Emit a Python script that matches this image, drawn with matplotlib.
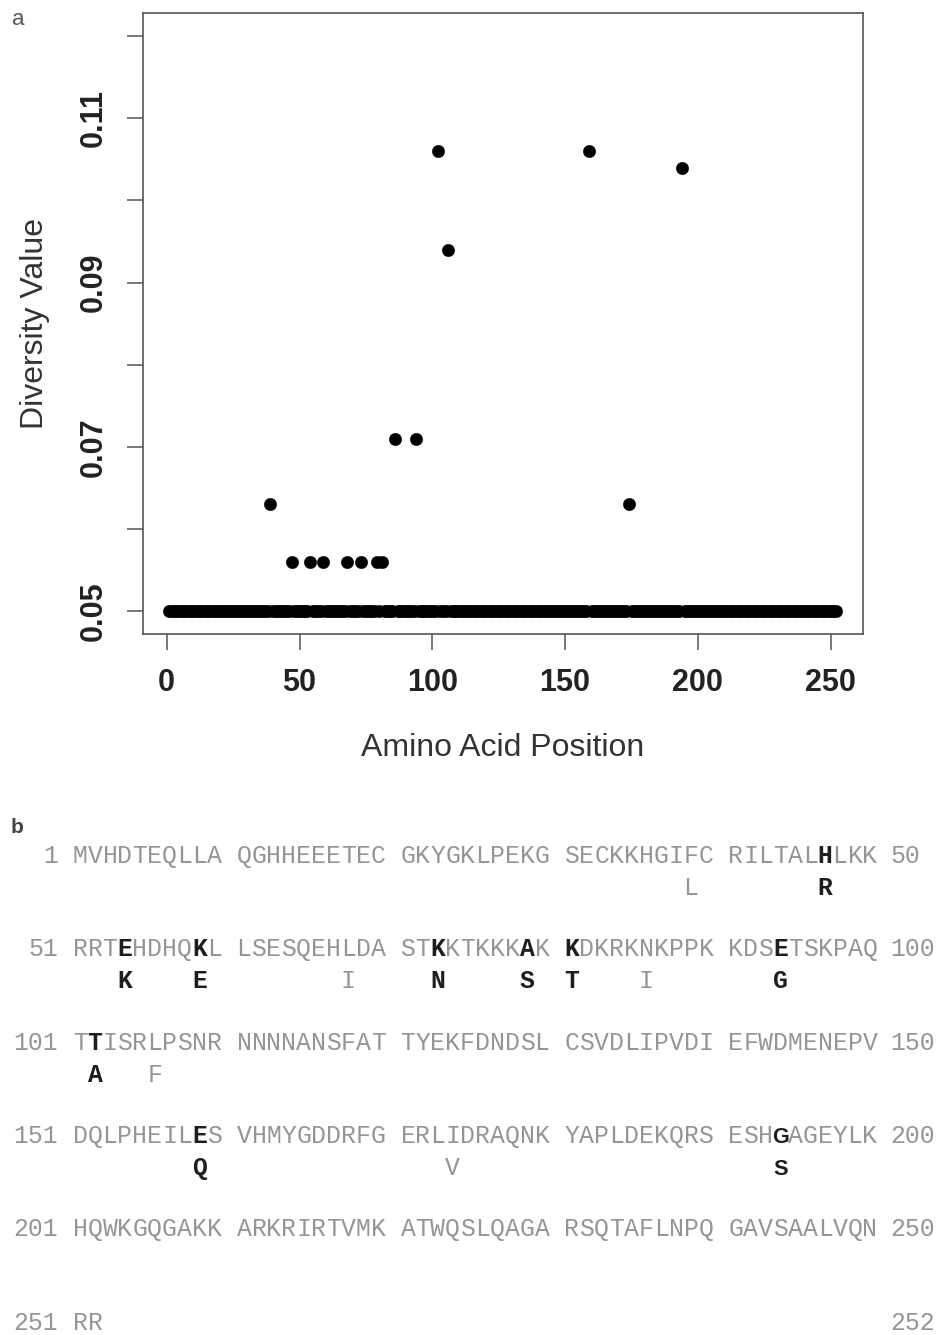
import numpy as np
import matplotlib
matplotlib.use("Agg")
import matplotlib.pyplot as plt

# ---------------- data ----------------
n_positions = 252
baseline_diversity = 0.05
site_positions = [39, 47, 54, 59, 68, 73, 79, 81, 86, 94, 102, 106, 159, 174, 194]
site_diversity = [0.063, 0.056, 0.056, 0.056, 0.056, 0.056, 0.056, 0.056,
                  0.071, 0.071, 0.106, 0.094, 0.106, 0.063, 0.104]
site_variants = ["L", "R", "K", "E", "I", "N", "S", "T", "I", "G", "A", "F", "Q", "V", "S"]
bold_sites = [47, 54, 59, 73, 79, 81, 94, 102, 159, 194]
sans_bold_sites = [194]

sequence_rows = [
    "MVHDTEQLLA QGHHEEETEC GKYGKLPEKG SECKKHGIFC RILTALHLKK",
    "RRTEHDHQKL LSESQEHLDA STKKTKKKAK KDKRKNKPPK KDSETSKPAQ",
    "TTISRLPSNR NNNNANSFAT TYEKFDNDSL CSVDLIPVDI EFWDMENEPV",
    "DQLPHEILES VHMYGDDRFG ERLIDRAQNK YAPLDEKQRS ESHGAGEYLK",
    "HQWKGQGAKK ARKRIRTVMK ATWQSLQAGA RSQTAFLNPQ GAVSAALVQN",
    "RR",
]
row_start_labels = ["1", "51", "101", "151", "201", "251"]
row_end_labels = ["50", "100", "150", "200", "250", "252"]

x_ticks = [0, 50, 100, 150, 200, 250]
y_ticks = [0.05, 0.06, 0.07, 0.08, 0.09, 0.10, 0.11, 0.12]
y_tick_labels = ["0.05", "", "0.07", "", "0.09", "", "0.11", ""]

# ---------------- figure ----------------
W, H = 938, 1335
fig = plt.figure(figsize=(W / 100, H / 100), dpi=100)

def fx(x):
    return x / W

def fy(y):
    return 1 - y / H

# Panel a
left, right, top, bottom = 142.7, 862.7, 13.3, 634.0
ax = fig.add_axes([fx(left), fy(bottom), fx(right - left), (bottom - top) / H])

positions = np.arange(1, n_positions + 1)
diversity = np.full(n_positions, baseline_diversity)
for p, d in zip(site_positions, site_diversity):
    diversity[p - 1] = d

ax.scatter(positions, diversity, s=80, c="black", edgecolors="black", linewidths=0.3, zorder=3)
ax.set_xlim(1 - 0.04 * 251, 252 + 0.04 * 251)
ax.set_ylim(0.05 - 0.04 * 0.07, 0.12 + 0.04 * 0.07)

ax.set_xticks(x_ticks)
ax.set_xticklabels([str(t) for t in x_ticks])
ax.set_yticks(y_ticks)
ax.set_yticklabels(y_tick_labels)

for sp in ax.spines.values():
    sp.set_color("#555555")
    sp.set_linewidth(1.2)
ax.tick_params(axis="both", direction="out", length=11.5, width=1.1, color="#555555",
               labelcolor="#222222", labelsize=22)
ax.tick_params(axis="x", pad=13)
ax.tick_params(axis="y", pad=13)
for lab in ax.get_xticklabels():
    lab.set_fontfamily("Liberation Sans")
    lab.set_fontweight("bold")
for lab in ax.get_yticklabels():
    lab.set_fontfamily("Liberation Sans")
    lab.set_fontweight("bold")
    lab.set_rotation(90)
    lab.set_va("center")
    lab.set_ha("right")

fig.text(fx(43.5), fy(323.5), "Diversity Value", rotation=90, rotation_mode="anchor",
         ha="center", va="baseline", fontsize=23, family="Liberation Sans", color="#333333")
fig.text(fx(502.7), fy(755.5), "Amino Acid Position", ha="center", va="baseline",
         fontsize=23, family="Liberation Sans", color="#333333")

fig.text(fx(12), fy(25), "a", ha="left", va="baseline", fontsize=16,
         family="Liberation Sans", color="#555555")
fig.text(fx(11), fy(833), "b", ha="left", va="baseline", fontsize=15,
         family="Liberation Sans", fontweight="bold", color="#444444")

# Panel b: sequence
cw = 14.9
x0 = 72.7
mono = "Liberation Mono"
fs = 17.8
grey = "#959595"
dark = "#1e1e1e"
row_y = [855.5, 948.8, 1042.1, 1135.4, 1228.7, 1322.0]
var_dy = 32.0
cap_half = 7.5

variant_map = dict(zip(site_positions, site_variants))

def col_center(col):
    return x0 + col * cw + cw / 2

for r, row in enumerate(sequence_rows):
    yb = row_y[r] + cap_half
    # start number, right aligned at column -2
    fig.text(fx(x0 - cw), fy(yb), row_start_labels[r], ha="right", va="baseline",
             fontsize=fs, family=mono, color=grey)
    # end number, left aligned at column 55
    fig.text(fx(x0 + 55 * cw - 2), fy(yb), row_end_labels[r], ha="left", va="baseline",
             fontsize=fs, family=mono, color=grey)
    pos = r * 50
    for col, ch in enumerate(row):
        if ch == " ":
            continue
        pos += 1
        xc = col_center(col)
        if pos in bold_sites:
            fam = "Liberation Sans" if pos in sans_bold_sites else mono
            fsz = fs * 0.88 if pos in sans_bold_sites else fs
            fig.text(fx(xc), fy(yb), ch, ha="center", va="baseline", fontsize=fsz,
                     family=fam, fontweight="bold", color=dark)
        else:
            fig.text(fx(xc), fy(yb), ch, ha="center", va="baseline", fontsize=fs,
                     family=mono, color=grey)
        if pos in variant_map:
            v = variant_map[pos]
            yv = yb + var_dy
            if pos in bold_sites:
                fam = "Liberation Sans" if pos in sans_bold_sites else mono
                fsz = fs * 0.88 if pos in sans_bold_sites else fs
                fig.text(fx(xc), fy(yv), v, ha="center", va="baseline", fontsize=fsz,
                         family=fam, fontweight="bold", color=dark)
            else:
                fig.text(fx(xc), fy(yv), v, ha="center", va="baseline", fontsize=fs,
                         family=mono, color=grey)

fig.savefig("out.png", dpi=100)
